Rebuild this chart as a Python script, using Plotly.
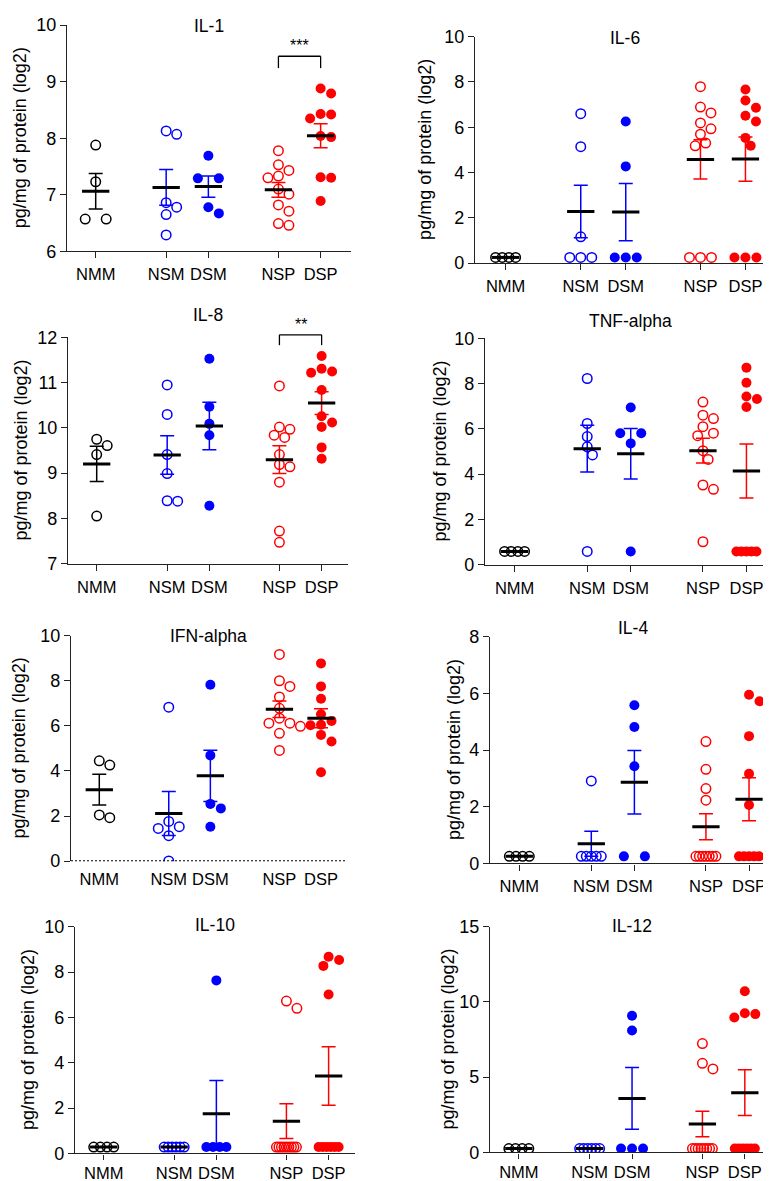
import numpy as np
import plotly.graph_objects as go

W, H = 771, 1181
FONT = "Liberation Sans, Arial, sans-serif"

CATS = ["NMM", "NSM", "DSM", "NSP", "DSP"]
XPOS = [0.0, 1.67, 2.67, 4.33, 5.33]
TITLES = ["IL-1", "IL-6", "IL-8", "TNF-alpha", "IFN-alpha", "IL-4", "IL-10", "IL-12"]
YRANGES = [[6, 10], [0, 10], [7, 12], [0, 10], [0, 10], [0, 8], [0, 10], [0, 15]]
YTICKS = [[6, 7, 8, 9, 10], [0, 2, 4, 6, 8, 10], [7, 8, 9, 10, 11, 12], [0, 2, 4, 6, 8, 10],
          [0, 2, 4, 6, 8, 10], [0, 2, 4, 6, 8], [0, 2, 4, 6, 8, 10], [0, 5, 10, 15]]
YTITLE = "pg/mg of protein (log2)"

# values per group: NMM, NSM, DSM, NSP, DSP
IL1 = [
    [7.88, 7.23, 6.57, 6.57],
    [8.13, 8.07, 6.86, 6.78, 6.65, 6.29],
    [7.69, 7.29, 7.29, 6.78, 6.67],
    [7.78, 7.53, 7.43, 7.33, 7.30, 7.10, 7.01, 6.82, 6.71, 6.49, 6.46],
    [8.88, 8.79, 8.43, 8.42, 8.35, 8.04, 8.02, 7.31, 7.30, 6.89],
]
IL6 = [
    [0.25, 0.25, 0.25, 0.25],
    [6.60, 5.14, 1.16, 0.25, 0.25, 0.25],
    [6.25, 4.27, 0.25, 0.25, 0.25],
    [7.79, 6.89, 6.63, 6.19, 5.93, 5.69, 5.30, 5.18, 0.25, 0.25, 0.25],
    [7.67, 7.18, 6.86, 6.51, 6.25, 5.53, 5.18, 0.25, 0.25, 0.25],
]
IL8 = [
    [9.75, 9.61, 9.41, 8.05],
    [10.95, 10.30, 9.41, 8.99, 8.39, 8.38],
    [11.53, 10.47, 10.09, 9.84, 8.28],
    [10.93, 10.02, 9.97, 9.84, 9.79, 9.41, 9.19, 9.14, 8.80, 7.72, 7.47],
    [11.59, 11.31, 11.25, 11.22, 10.84, 10.26, 10.12, 10.02, 9.57, 9.32],
]
TNF = [
    [0.58, 0.58, 0.58, 0.58],
    [8.23, 6.24, 5.66, 5.21, 4.85, 0.58],
    [6.95, 5.81, 5.81, 5.36, 0.58],
    [7.19, 6.61, 6.46, 6.10, 5.81, 5.70, 5.04, 4.65, 3.52, 3.33, 1.01],
    [8.71, 8.04, 7.43, 7.32, 6.97, 0.58, 0.58, 0.58, 0.58, 0.58],
]
IFN = [
    [4.45, 4.26, 2.05, 1.93],
    [6.83, 1.76, 1.53, 1.45, 1.13, 0.01],
    [7.82, 4.69, 2.54, 2.34, 1.53],
    [9.17, 8.00, 7.75, 7.28, 6.78, 6.34, 6.12, 6.12, 5.98, 5.67, 4.91],
    [8.77, 7.75, 7.20, 6.51, 6.22, 6.05, 6.03, 5.60, 5.31, 3.94],
]
IL4 = [
    [0.25, 0.25, 0.25, 0.25],
    [2.91, 0.25, 0.25, 0.25, 0.25, 0.25],
    [5.58, 4.81, 3.43, 0.25, 0.25],
    [4.30, 3.32, 2.64, 2.23, 0.25, 0.25, 0.25, 0.25, 0.25, 0.25, 0.25],
    [5.95, 5.72, 4.49, 3.16, 2.06, 0.25, 0.25, 0.25, 0.25, 0.25],
]
IL10 = [
    [0.28, 0.28, 0.28, 0.28],
    [0.28, 0.28, 0.28, 0.28, 0.28, 0.28],
    [7.63, 0.28, 0.28, 0.28, 0.28],
    [6.72, 6.40, 0.28, 0.28, 0.28, 0.28, 0.28, 0.28, 0.28, 0.28, 0.28],
    [8.67, 8.53, 8.27, 7.01, 0.28, 0.28, 0.28, 0.28, 0.28, 0.28],
]
IL12 = [
    [0.26, 0.26, 0.26, 0.26],
    [0.26, 0.26, 0.26, 0.26, 0.26, 0.26],
    [9.08, 8.10, 0.26, 0.26, 0.26],
    [7.23, 5.92, 5.55, 0.26, 0.26, 0.26, 0.26, 0.26, 0.26, 0.26, 0.26],
    [10.71, 9.25, 9.19, 8.97, 0.26, 0.26, 0.26, 0.26, 0.26, 0.26],
]
DATA = [IL1, IL6, IL8, TNF, IFN, IL4, IL10, IL12]

# significance brackets: (panel index, group a, group b, label, top value, leg value)
SIG = [(0, 3, 4, "***", 9.45, 9.24), (2, 3, 4, "**", 12.06, 11.83)]

# ---- layout / style (pixels) ----
BOX = [(59, 343, 7.3, 237.3), (467, 767, 19, 249.3), (60, 340, 325, 555), (477, 767, 326, 556),
       (63, 338, 628.3, 857.7), (482, 768, 629.3, 860), (67, 347, 924.3, 1155), (482, 765, 924.3, 1154)]
KX = [42.2, 45.0, 42.2, 43.5, 41.6, 43.1, 42.2, 42.4]
TITLE_Y = [8, 20, 302, 308, 629, 621, 923, 924]
YTITLE_X = [12, 417, 13, 432, 11, 446, 20, 440]

BLUE, RED, BLACK = "#0000FF", "#FF0000", "#000000"
AXC = "#222222"
GCOL = [BLACK, BLUE, BLUE, RED, RED]
GOPEN = [True, True, False, True, False]
D = 10.5


def swarm(vals, ky):
    n = len(vals)
    off = np.zeros(n)
    done = np.zeros(n, bool)
    same = {}
    for i, v in enumerate(vals):
        same.setdefault(v, []).append(i)
    for v, idx in same.items():
        m = len(idx)
        if m < 2:
            continue
        if m == 2:
            pos = [-D, D]
        elif m == 3:
            pos = [-(D + 0.5), 0, D + 0.5]
        else:
            pos = np.linspace(-10, 10, m)
        for j, i in enumerate(idx):
            off[i] = pos[j]
            done[i] = True
    order = sorted([i for i in range(n) if not done[i]], key=lambda i: -vals[i])
    for i in order:
        x = 0.0
        for step in [0, 1, -1, 2, -2, 3, -3, 4, -4, 5, -5, 6, -6]:
            x = step * D / 2
            ok = all((x - off[j]) ** 2 + ((vals[i] - vals[j]) * ky) ** 2 >= (0.9 * D) ** 2
                     for j in range(n) if done[j])
            if ok:
                break
        off[i] = x
        done[i] = True
    return off


fig = go.Figure()
layout = dict(width=W, height=H, margin=dict(l=0, r=0, t=0, b=0), showlegend=False,
              paper_bgcolor="white", plot_bgcolor="white", font=dict(family=FONT, color="black"))
shapes, annos = [], []

for p in range(8):
    n = p + 1
    xn = "x" if n == 1 else f"x{n}"
    yn = "y" if n == 1 else f"y{n}"
    left, right, top, bot = BOX[p]
    k = KX[p]
    y0, y1 = YRANGES[p]
    ky = (bot - top) / (y1 - y0)
    xr = [-0.68, (right - left) / k - 0.68]

    means, sems = [], []
    for g in range(5):
        vals = DATA[p][g]
        offs = swarm(vals, ky)
        xs = [XPOS[g] + o / k for o in offs]
        if GOPEN[g]:
            mk = dict(symbol="circle-open", size=9.5, color=GCOL[g], line=dict(width=1.5, color=GCOL[g]))
        else:
            mk = dict(symbol="circle", size=10, color=GCOL[g], line=dict(width=0))
        fig.add_trace(go.Scatter(x=xs, y=vals, mode="markers", marker=mk, xaxis=xn, yaxis=yn,
                                 hoverinfo="skip"))
        arr = np.array(vals, float)
        means.append(arr.mean())
        sems.append(arr.std(ddof=1) / np.sqrt(len(arr)))
    for g in range(5):
        fig.add_trace(go.Scatter(x=[XPOS[g]], y=[means[g]], mode="markers",
                                 marker=dict(size=1, color="rgba(0,0,0,0)"),
                                 error_y=dict(type="data", array=[sems[g]], symmetric=True,
                                              color=GCOL[g], thickness=1.5, width=7),
                                 xaxis=xn, yaxis=yn, hoverinfo="skip"))
    fig.add_trace(go.Scatter(x=XPOS, y=means, mode="markers",
                             marker=dict(symbol="line-ew", size=19.5, color=BLACK,
                                         line=dict(width=3, color=BLACK)),
                             xaxis=xn, yaxis=yn, hoverinfo="skip"))

    is_ifn = TITLES[p] == "IFN-alpha"
    bottom_row = p >= 6
    layout["xaxis" if n == 1 else f"xaxis{n}"] = dict(
        domain=[left / W, right / W], range=xr, anchor=yn, tickvals=XPOS, ticktext=CATS,
        ticks="" if is_ifn else "outside", ticklen=5 if bottom_row else 6, tickwidth=1.3, tickcolor=AXC,
        ticklabelstandoff=6 if is_ifn else (0 if bottom_row else 2),
        showline=not is_ifn, linecolor=AXC, linewidth=1.3, showgrid=False, zeroline=False,
        tickfont=dict(size=16.5, color="black", family=FONT), fixedrange=True)
    layout["yaxis" if n == 1 else f"yaxis{n}"] = dict(
        domain=[1 - bot / H, 1 - top / H], range=[y0, y1], anchor=xn, tickvals=YTICKS[p],
        ticks="outside", ticklen=6, tickwidth=1.3, tickcolor=AXC, showline=True,
        linecolor=AXC, linewidth=1.3, showgrid=False, zeroline=False,
        tickfont=dict(size=18, color="black", family=FONT), fixedrange=True)
    if is_ifn:
        shapes.append(dict(type="line", xref=f"{xn} domain", yref=yn, x0=0, x1=1, y0=0, y1=0,
                           line=dict(color="black", width=2, dash="2px,2px")))

    annos.append(dict(text=TITLES[p], xref="paper", yref="paper", x=(left + right) / 2 / W,
                      y=1 - TITLE_Y[p] / H, xanchor="center", yanchor="middle", showarrow=False,
                      font=dict(size=17.5, color="black", family=FONT)))
    annos.append(dict(text=YTITLE, xref="paper", yref="paper", x=YTITLE_X[p] / W,
                      y=1 - (top + bot) / 2 / H, xanchor="center", yanchor="middle",
                      textangle=-90, showarrow=False, font=dict(size=18, color="black", family=FONT)))

for (p, ga, gb, lab, vt, vl) in SIG:
    n = p + 1
    xn = "x" if n == 1 else f"x{n}"
    yn = "y" if n == 1 else f"y{n}"
    y0, y1 = YRANGES[p]
    dt = (vt - y0) / (y1 - y0)
    dl = (vl - y0) / (y1 - y0)
    ln = dict(color="black", width=1.3)
    yd = f"{yn} domain"
    shapes.append(dict(type="line", xref=xn, yref=yd, x0=XPOS[ga], x1=XPOS[gb], y0=dt, y1=dt, line=ln))
    shapes.append(dict(type="line", xref=xn, yref=yd, x0=XPOS[ga], x1=XPOS[ga], y0=dt, y1=dl, line=ln))
    shapes.append(dict(type="line", xref=xn, yref=yd, x0=XPOS[gb], x1=XPOS[gb], y0=dt, y1=dl, line=ln))
    annos.append(dict(text=lab, xref=xn, yref=yd, x=(XPOS[ga] + XPOS[gb]) / 2, y=dt,
                      xanchor="center", yanchor="bottom", showarrow=False, yshift=0,
                      font=dict(size=16, color="black", family=FONT)))

layout["shapes"] = shapes
layout["annotations"] = annos
fig.update_layout(**layout)
fig.write_html("out.html")
